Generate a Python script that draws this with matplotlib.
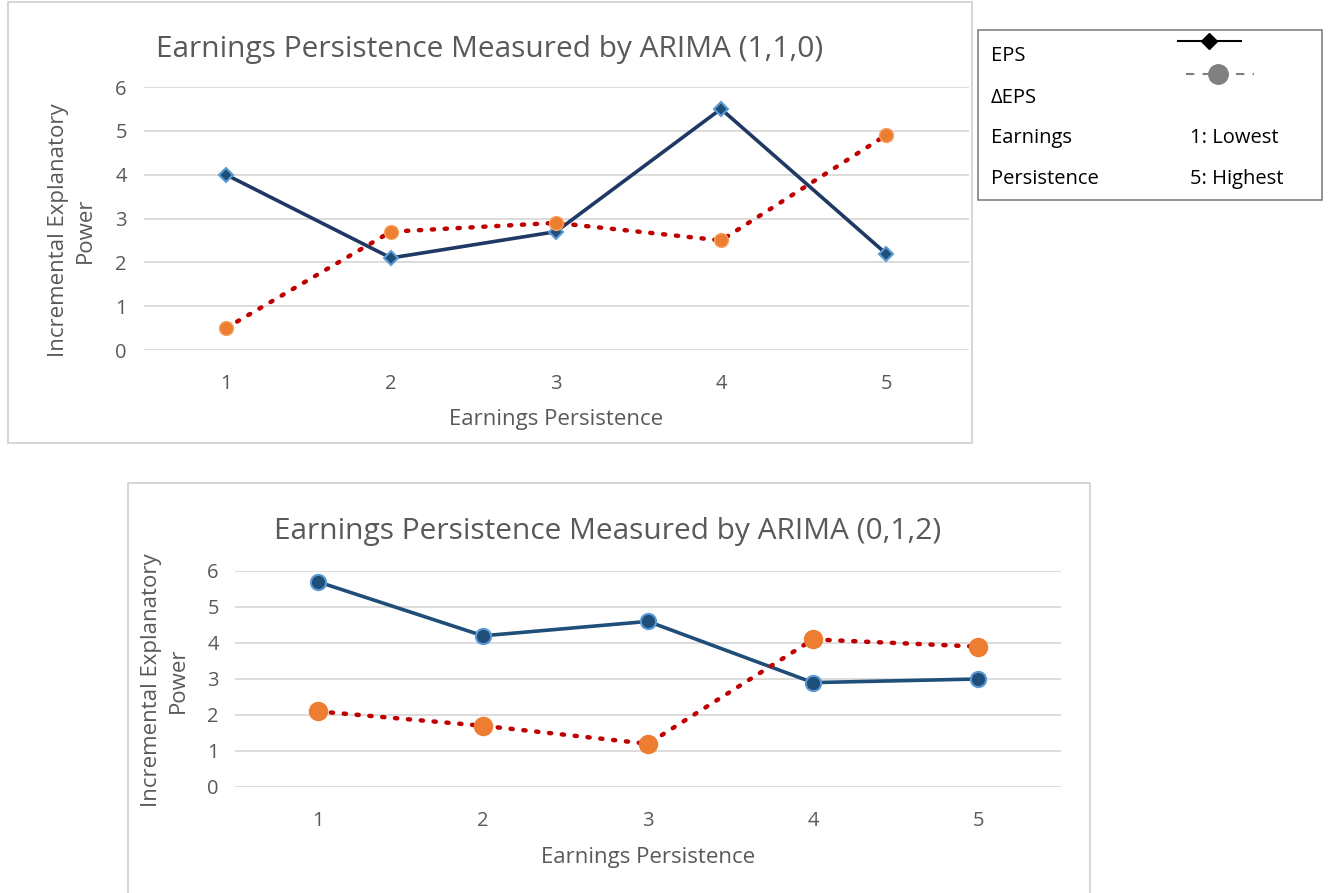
import matplotlib
matplotlib.use("Agg")
import matplotlib.pyplot as plt
from matplotlib.patches import Rectangle
from matplotlib.lines import Line2D

categories = [1, 2, 3, 4, 5]
top_eps = [4.0, 2.1, 2.7, 5.5, 2.2]
top_deps = [0.5, 2.7, 2.9, 2.5, 4.9]
bot_eps = [5.7, 4.2, 4.6, 2.9, 3.0]
bot_deps = [2.1, 1.7, 1.2, 4.1, 3.9]
yticks = [0, 1, 2, 3, 4, 5, 6]
title_top = "Earnings Persistence Measured by ARIMA (1,1,0)"
title_bot = "Earnings Persistence Measured by ARIMA (0,1,2)"
xlabel = "Earnings Persistence"
ylabel = "Incremental Explanatory\nPower"

W, H = 1333, 893
plt.rcParams['font.family'] = ['Open Sans', 'DejaVu Sans']
fig = plt.figure(figsize=(W / 100, H / 100), dpi=100)

def px(x0, y0, x1, y1):
    return [x0 / W, 1 - y1 / H, (x1 - x0) / W, (y1 - y0) / H]

GRID = '#D9D9D9'
TXT = '#595959'

# chart borders
fig.patches.append(Rectangle((8 / W, 1 - 443 / H), (972 - 8) / W, (443 - 2) / H,
                             transform=fig.transFigure, fill=False, edgecolor='#D0D0D0', lw=1.2))
fig.patches.append(Rectangle((128 / W, 1 - 900 / H), (1090 - 128) / W, (900 - 483) / H,
                             transform=fig.transFigure, fill=False, edgecolor='#D0D0D0', lw=1.2))

def make_axes(rect, eps, deps, title, tx, ty, xlx, xly, ylx, yly, style):
    ax = fig.add_axes(rect)
    ax.set_xlim(0.5, 5.5)
    ax.set_ylim(0, 6)
    ax.set_yticks(yticks)
    ax.set_xticks(categories)
    for s in ax.spines.values():
        s.set_visible(False)
    ax.grid(axis='y', color=GRID, lw=1.3)
    ax.set_axisbelow(True)
    ax.tick_params(length=0, labelsize=14.5, colors=TXT, pad=12)
    ax.tick_params(axis='x', pad=17)
    if style == 'top':
        ax.plot(categories, eps, color='#203864', lw=2.6, marker='D', ms=7,
                mfc='#1F4E79', mec='#5B9BD5', mew=1.5, zorder=3)
        ax.plot(categories, deps, color='#C00000', lw=3.2, ls=(0, (0.5, 2.4)),
                dash_capstyle='round', marker='o', ms=10, mfc='#ED7D31', mec='#F4A460', mew=1, zorder=4)
    else:
        ax.plot(categories, eps, color='#1F4E79', lw=2.6, marker='o', ms=11,
                mfc='#1F4E79', mec='#5B9BD5', mew=1.5, zorder=3)
        ax.plot(categories, deps, color='#C00000', lw=3.2, ls=(0, (0.5, 2.4)),
                dash_capstyle='round', marker='o', ms=13, mfc='#ED7D31', mec='#ED7D31', mew=1, zorder=4)
    fig.text(tx / W, 1 - ty / H, title, ha='center', va='center', fontsize=21.5, color=TXT)
    fig.text(xlx / W, 1 - xly / H, xlabel, ha='center', va='center', fontsize=16, color=TXT)
    fig.text(ylx / W, 1 - yly / H, ylabel, ha='center', va='center', fontsize=16, color=TXT,
             rotation=90, linespacing=1.35)
    return ax

# top: y=6 at 87, y=0 at 350; x 0.5 at 143.5, 5.5 at 968.5
make_axes(px(143.5, 87, 968.5, 350), top_eps, top_deps, title_top,
          490, 50, 556, 420, 72, 230, 'top')
# bottom: y=6 at 571, y=0 at 787; x 0.5 at 235.5, 5.5 at 1060.5
make_axes(px(235.5, 571, 1060.5, 787), bot_eps, bot_deps, title_bot,
          608, 531, 648, 857, 165, 680, 'bot')

# legend box
fig.patches.append(Rectangle((978 / W, 1 - 200 / H), (1322 - 978) / W, (200 - 30) / H,
                             transform=fig.transFigure, fill=False, edgecolor='#808080', lw=1.2))
lx = 991
for txt, y in [("EPS", 56), ("\u0394EPS", 98), ("Earnings", 138), ("Persistence", 179)]:
    fig.text(lx / W, 1 - y / H, txt, ha='left', va='center', fontsize=14.5, color='black')
fig.text(1190 / W, 1 - 138 / H, "1: Lowest", ha='left', va='center', fontsize=14.5, color='black')
fig.text(1190 / W, 1 - 179 / H, "5: Highest", ha='left', va='center', fontsize=14.5, color='black')
fig.lines.append(Line2D([1178 / W, 1241 / W], [1 - 41 / H, 1 - 41 / H], transform=fig.transFigure,
                        color='black', lw=1.5))
fig.lines.append(Line2D([1209 / W], [1 - 41 / H], transform=fig.transFigure,
                        color='black', marker='D', ms=8, ls='none'))
fig.lines.append(Line2D([1186 / W, 1254 / W], [1 - 74 / H, 1 - 74 / H], transform=fig.transFigure,
                        color='#808080', lw=1.5, ls=(0, (4, 4))))
fig.lines.append(Line2D([1218 / W], [1 - 74 / H], transform=fig.transFigure,
                        color='#808080', marker='o', ms=14, ls='none'))

fig.savefig("out.png", dpi=100, facecolor='white')
